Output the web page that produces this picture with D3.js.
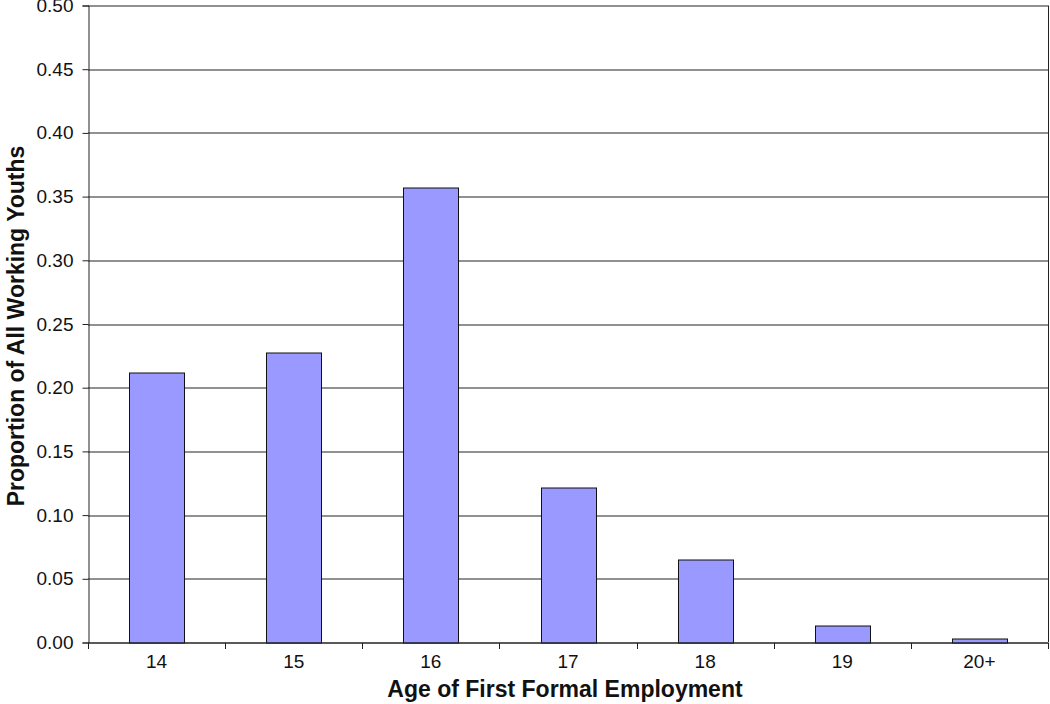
<!DOCTYPE html>
<html>
<head>
<meta charset="utf-8">
<script src="https://cdn.jsdelivr.net/npm/d3@7"></script>
<style>
    body { margin: 0; background: #fff; }
    svg { font-family: "Liberation Sans", Arial, Helvetica, sans-serif; }
</style>
</head>
<body>
<div id="chart"></div>
<script>
// categories and values
var ages = ["14", "15", "16", "17", "18", "19", "20+"];
var proportions = [0.212, 0.228, 0.357, 0.122, 0.065, 0.013, 0.003];
var yTicks = [0, 0.05, 0.10, 0.15, 0.20, 0.25, 0.30, 0.35, 0.40, 0.45, 0.50];

var width = 1050,
    height = 704;

var margin = {
    top: 5.5,
    right: 2,
    bottom: 61.5,
    left: 88
};

var w = width - margin.left - margin.right;
var h = height - margin.top - margin.bottom;

var svg = d3.select("#chart").append("svg")
    .attr("width", width)
    .attr("height", height);

var plot = svg.append("g")
    .attr("transform", `translate(${margin.left},${margin.top})`);

var x = d3.scaleBand()
    .domain(ages)
    .range([0, w])
    .paddingInner(0.6)
    .paddingOuter(0.3);

var y = d3.scaleLinear()
    .domain([0, 0.5])
    .range([h, 0]);

// gridlines
plot.append("g")
    .selectAll("line")
    .data(yTicks)
    .enter().append("line")
    .attr("x1", 0)
    .attr("x2", w)
    .attr("y1", d => Math.round(y(d)) + 0.5)
    .attr("y2", d => Math.round(y(d)) + 0.5)
    .attr("stroke", "#222")
    .attr("stroke-width", 1);

// right border
plot.append("line")
    .attr("x1", w + 0.5).attr("x2", w + 0.5)
    .attr("y1", y(0.5)).attr("y2", y(0))
    .attr("stroke", "#222");

// bars
plot.append("g")
    .selectAll("rect")
    .data(ages.map((a, i) => ({age: a, v: proportions[i]})))
    .enter().append("rect")
    .attr("x", d => Math.round(x(d.age)) + 0.5)
    .attr("y", d => Math.round(y(d.v)) + 0.5)
    .attr("width", Math.round(x.bandwidth()))
    .attr("height", d => Math.round(y(0)) - Math.round(y(d.v)))
    .attr("fill", "#9999ff")
    .attr("stroke", "#111")
    .attr("stroke-width", 1);

// y axis
var yAxis = plot.append("g")
    .attr("transform", "translate(0.5,0)")
    .call(d3.axisLeft(y)
        .tickValues(yTicks)
        .tickFormat(d3.format(".2f"))
        .tickSize(6)
        .tickPadding(9));
yAxis.select(".domain").attr("stroke", "#222");
yAxis.selectAll(".tick line").attr("stroke", "#222");
yAxis.selectAll("text")
    .attr("font-size", 19)
    .attr("fill", "#111")
    .style("font-family", "inherit");

// x axis - ticks sit on the category boundaries
var xAxisG = plot.append("g")
    .attr("transform", `translate(0,${Math.round(y(0)) + 0.5})`);

xAxisG.append("line")
    .attr("x1", 0).attr("x2", w)
    .attr("stroke", "#222");

var step = w / ages.length;
xAxisG.selectAll(".xtick")
    .data(d3.range(ages.length + 1))
    .enter().append("line")
    .attr("x1", d => Math.round(d * step) + 0.5)
    .attr("x2", d => Math.round(d * step) + 0.5)
    .attr("y1", 0)
    .attr("y2", 6)
    .attr("stroke", "#222");

xAxisG.selectAll(".xlabel")
    .data(ages)
    .enter().append("text")
    .attr("x", d => x(d) + x.bandwidth() / 2)
    .attr("y", 25)
    .attr("text-anchor", "middle")
    .attr("font-size", 19)
    .attr("fill", "#111")
    .text(d => d);

// axis titles
svg.append("text")
    .attr("x", margin.left + w / 2 - 3)
    .attr("y", 697)
    .attr("text-anchor", "middle")
    .attr("font-size", 23)
    .attr("font-weight", "bold")
    .attr("fill", "#111")
    .text("Age of First Formal Employment");

svg.append("text")
    .attr("transform", `translate(24,${margin.top + h / 2 + 2}) rotate(-90)`)
    .attr("text-anchor", "middle")
    .attr("font-size", 23)
    .attr("font-weight", "bold")
    .attr("fill", "#111")
    .text("Proportion of All Working Youths");
</script>
</body>
</html>
